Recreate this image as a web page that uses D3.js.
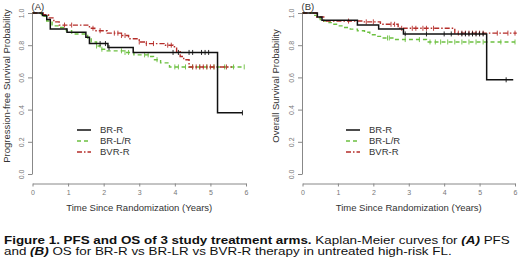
<!DOCTYPE html>
<html>
<head>
<meta charset="utf-8">
<script src="https://cdn.jsdelivr.net/npm/d3@7"></script>
<style>
  body { margin: 0; background: #fff; }
  svg { display: block; font-family: "Liberation Sans", Arial, sans-serif; }
</style>
</head>
<body>
<div id="chart"></div>
<script>
// tick values
const yearTicks = [0, 1, 2, 3, 4, 5, 6];
const survTicks = [0, 0.2, 0.4, 0.6, 0.8, 1.0];
const arms = ["BR-R", "BR-L/R", "BVR-R"];

// (A) PFS - step times (years) and survival after each step
const pfsBRR_t = [0, 0.28, 0.4, 0.5, 0.97, 1.5, 1.6, 2.12, 2.83, 5.2, 5.9];
const pfsBRR_s = [1, 0.985, 0.96, 0.90, 0.88, 0.85, 0.81, 0.785, 0.755, 0.38, 0.38];
const pfsBRLR_t = [0, 0.25, 0.4, 0.55, 0.75, 0.95, 1.1, 1.55, 1.65, 1.8, 1.9, 2.1, 2.6, 2.85, 3.3, 3.4, 3.6, 3.85, 5.95];
const pfsBRLR_s = [1, 0.98, 0.95, 0.92, 0.91, 0.89, 0.87, 0.845, 0.82, 0.795, 0.775, 0.765, 0.755, 0.74, 0.73, 0.71, 0.69, 0.665, 0.665];
const pfsBVRR_t = [0, 0.3, 0.45, 0.6, 0.75, 1.6, 1.75, 2.1, 2.5, 2.7, 3.0, 3.2, 3.7, 3.95, 4.05, 4.15, 4.25, 4.4, 5.6];
const pfsBVRR_s = [1, 0.99, 0.97, 0.945, 0.925, 0.905, 0.89, 0.875, 0.86, 0.84, 0.82, 0.81, 0.80, 0.79, 0.76, 0.73, 0.71, 0.665, 0.665];

// (B) OS
const osBRR_t = [0, 0.42, 0.55, 1.55, 2.15, 2.85, 5.2, 5.95];
const osBRR_s = [1, 0.975, 0.955, 0.925, 0.9, 0.87, 0.585, 0.585];
const osBRLR_t = [0, 0.3, 0.4, 0.5, 0.6, 0.75, 0.85, 1.0, 1.15, 1.35, 1.55, 1.75, 1.9, 2.05, 2.25, 2.6, 3.5, 6.0];
const osBRLR_s = [1, 0.985, 0.97, 0.96, 0.95, 0.94, 0.93, 0.92, 0.91, 0.9, 0.89, 0.88, 0.865, 0.855, 0.845, 0.835, 0.82, 0.82];
const osBVRR_t = [0, 0.4, 0.6, 1.7, 2.2, 2.7, 4.3, 6.05];
const osBVRR_s = [1, 0.975, 0.95, 0.945, 0.93, 0.905, 0.875, 0.875];

// censored observations (years)
const pfsBRR_c = [1.9, 2.05, 2.15, 3.95, 4.1, 4.4, 4.5, 4.75, 4.85, 4.95, 5.9];
const pfsBRLR_c = [1.8, 1.95, 2.5, 2.6, 2.7, 3.15, 3.25, 3.5, 4.0, 4.1, 4.3, 4.5, 4.7, 4.9, 5.1, 5.4, 5.65, 5.95];
const pfsBVRR_c = [0.9, 1.1, 1.7, 1.9, 2.3, 2.4, 2.5, 2.6, 3.0, 3.2, 3.4, 3.8, 3.9, 4.5, 4.6, 4.7, 4.8, 4.9, 5.0, 5.1, 5.2, 5.45];
const osBRR_c = [2.9, 3.5, 4.0, 4.2, 4.5, 4.6, 4.7, 4.8, 4.9, 5.0, 5.1, 5.75];
const osBRLR_c = [2.4, 2.45, 2.9, 3.3, 3.6, 3.75, 3.9, 4.1, 4.3, 4.5, 4.7, 4.9, 5.1, 5.6, 6.0];
const osBVRR_c = [1.3, 1.8, 2.0, 2.5, 2.6, 2.8, 3.1, 3.2, 3.4, 3.5, 3.7, 4.4, 4.5, 4.6, 4.7, 4.8, 4.9, 5.0, 5.1, 5.5, 5.8, 6.0];

const W = 520, H = 267;
const styles = [
  { color: "#111", width: 1.5, dash: null },
  { color: "#6cc040", width: 1.4, dash: "4,3" },
  { color: "#b52e2a", width: 1.4, dash: "5,2,1.5,2" }
];

const svg = d3.select("#chart").append("svg")
    .attr("width", W).attr("height", H);

function panel(opts) {
  const x = d3.scaleLinear().domain([0, 6]).range([opts.x0, opts.x1]);
  const y = d3.scaleLinear().domain([0, 1]).range([174, 13]);
  const g = svg.append("g");

  // y axis
  g.append("g")
      .attr("transform", `translate(${opts.x0 - 0.5},0)`)
      .call(d3.axisLeft(y).tickValues(survTicks).tickFormat(d3.format(".1f")).tickSize(4).tickSizeOuter(0))
      .call(a => a.select(".domain").attr("stroke", "#888"))
      .call(a => a.selectAll(".tick line").attr("stroke", "#888"))
      .call(a => a.selectAll(".tick text")
          .attr("fill", "#777").attr("font-size", 7)
          .attr("transform", "rotate(-90)")
          .attr("x", 0).attr("y", -8.5)
          .attr("dy", 0)
          .attr("text-anchor", "middle"));

  // x axis
  g.append("g")
      .attr("transform", "translate(0,183.5)")
      .call(d3.axisBottom(x).tickValues(yearTicks).tickFormat(d3.format("d")).tickSize(3).tickSizeOuter(0))
      .call(a => a.select(".domain").attr("stroke", "#888"))
      .call(a => a.selectAll(".tick line").attr("stroke", "#888"))
      .call(a => a.selectAll(".tick text").attr("fill", "#777").attr("font-size", 7).attr("y", 7));

  g.append("text")
      .attr("transform", `translate(${opts.titleX},${opts.titleY}) rotate(-90)`)
      .attr("text-anchor", "middle").attr("font-size", 9.5).attr("fill", "#333")
      .text(opts.yTitle);

  g.append("text")
      .attr("x", (opts.x0 + opts.x1) / 2).attr("y", 211)
      .attr("text-anchor", "middle").attr("font-size", 9.5).attr("fill", "#333")
      .text("Time Since Randomization (Years)");

  g.append("text")
      .attr("x", opts.x0 - 1).attr("y", 10)
      .attr("font-size", 9.5).attr("fill", "#333")
      .text(opts.label);

  const line = d3.line().curve(d3.curveStepAfter)
      .x(d => x(d[0])).y(d => y(d[1]));

  // draw in order green, red, black like R overlay
  [1, 2, 0].forEach(i => {
    const c = opts.curves[i];
    const st = styles[i];
    const pts = c.t.map((t, k) => [t, c.s[k]]);
    g.append("path")
        .attr("d", line(pts))
        .attr("fill", "none")
        .attr("stroke", st.color)
        .attr("stroke-width", st.width)
        .attr("stroke-dasharray", st.dash);
    g.append("g").selectAll("line")
      .data(c.c)
      .join("line")
        .attr("x1", d => x(d)).attr("x2", d => x(d))
        .attr("y1", d => y(c.s[d3.bisectRight(c.t, d) - 1]) - 2.5)
        .attr("y2", d => y(c.s[d3.bisectRight(c.t, d) - 1]) + 2.5)
        .attr("stroke", st.color).attr("stroke-width", 0.9);
  });

  // legend
  const lg = g.append("g").attr("transform", `translate(${opts.legX},130)`);
  arms.forEach((name, i) => {
    const st = styles[i];
    lg.append("line")
        .attr("x1", 0).attr("x2", 14).attr("y1", i * 11).attr("y2", i * 11)
        .attr("stroke", st.color).attr("stroke-width", st.width)
        .attr("stroke-dasharray", st.dash);
    lg.append("text")
        .attr("x", 23).attr("y", i * 11).attr("dy", "0.35em")
        .attr("font-size", 9.5).attr("fill", "#333")
        .text(name);
  });
}

panel({
  x0: 32.5, x1: 246, label: "(A)", titleX: 10, titleY: 86, legX: 77,
  yTitle: "Progression-free Survival Probability",
  curves: [
    { t: pfsBRR_t, s: pfsBRR_s, c: pfsBRR_c },
    { t: pfsBRLR_t, s: pfsBRLR_s, c: pfsBRLR_c },
    { t: pfsBVRR_t, s: pfsBVRR_s, c: pfsBVRR_c }
  ]
});

panel({
  x0: 302.5, x1: 515, label: "(B)", titleX: 279, titleY: 86, legX: 346,
  yTitle: "Overall Survival Probability",
  curves: [
    { t: osBRR_t, s: osBRR_s, c: osBRR_c },
    { t: osBRLR_t, s: osBRLR_s, c: osBRLR_c },
    { t: osBVRR_t, s: osBVRR_s, c: osBVRR_c }
  ]
});

// caption (the figure is a bit wider than its font, so stretch horizontally)
const capG = svg.append("g");
const l1 = [
  ["Figure 1. PFS and OS of 3 study treatment arms.", "bold", "normal"],
  [" Kaplan-Meier curves for ", "normal", "normal"],
  ["(A)", "bold", "italic"],
  [" PFS", "normal", "normal"]
];
const l2 = [
  ["and ", "normal", "normal"],
  ["(B)", "bold", "italic"],
  [" OS for BR-R vs BR-LR vs BVR-R therapy in untreated high-risk FL.", "normal", "normal"]
];
const rows = [[l1, 244], [l2, 255.5]].map(([parts, yy]) => {
  const t = capG.append("text").attr("x", 0).attr("y", yy)
      .attr("font-size", 11.5).attr("fill", "#111");
  parts.forEach(p => {
    t.append("tspan").attr("font-weight", p[1]).attr("font-style", p[2]).text(p[0]);
  });
  return t;
});
const len1 = rows[0].node().getComputedTextLength();
capG.attr("transform", `translate(4,0) scale(${506 / len1},1)`);
</script>
</body>
</html>
